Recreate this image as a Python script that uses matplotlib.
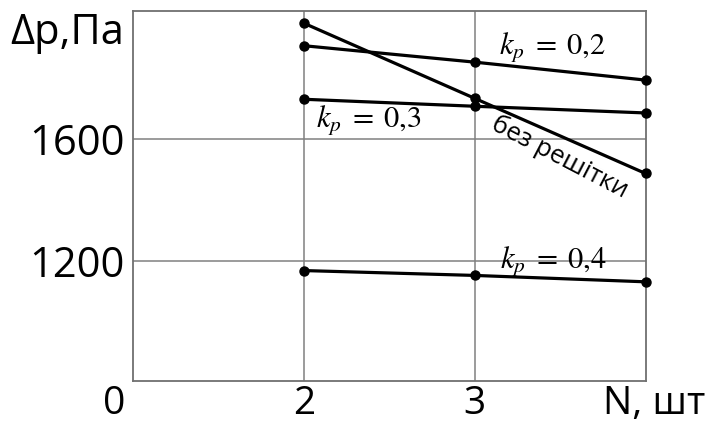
import matplotlib
matplotlib.use("Agg")
import matplotlib.pyplot as plt

plt.rcParams['font.family'] = ['Open Sans', 'DejaVu Sans']
plt.rcParams['mathtext.fontset'] = 'stix'

# Data
n_values = [2, 3, 4]
dp_k02 = [1907, 1853, 1794]
dp_no_grid = [1981, 1734, 1487]
dp_k03 = [1731, 1708, 1686]
dp_k04 = [1168, 1152, 1131]

y_ticks = [1200, 1600]
x_ticks = [2, 3]
x_labels = ['2', '3']

fig = plt.figure(figsize=(7.11, 4.24), dpi=100)
ax = fig.add_axes([0.187, 0.1014, 0.721, 0.8726])

for series in (dp_k02, dp_no_grid, dp_k03, dp_k04):
    ax.plot(n_values, series, color='black', lw=2.3, marker='o', ms=6.5,
            clip_on=False, zorder=3)

ax.set_xlim(1, 4)
ax.set_ylim(805, 2021)
ax.set_xticks(x_ticks)
ax.set_xticklabels([])
ax.set_yticks(y_ticks)
ax.set_yticklabels([str(v) for v in y_ticks])
ax.tick_params(length=0, labelsize=30, pad=6, colors='black')
ax.grid(True, color='#808080', lw=1.1)
for sp in ax.spines.values():
    sp.set_color('#707070')
    sp.set_linewidth(1.3)

# bottom labels, placed by baseline so they stay inside the figure
def bottom_label(x, s):
    ax.annotate(s, xy=(x, 0), xycoords=('data', 'axes fraction'),
                xytext=(0, -23.5), textcoords='offset points', ha='center',
                va='baseline', fontsize=28, annotation_clip=False)

for x, s in zip(x_ticks, x_labels):
    bottom_label(x, s)
bottom_label(4.05, 'N, шт')
bottom_label(0.89, '0')

ax.annotate('Δp,Па', xy=(0, 1948), xycoords=('axes fraction', 'data'),
            xytext=(-6, 0), textcoords='offset points', ha='right',
            va='center', fontsize=30, annotation_clip=False)

# line labels
ax.text(3.14, 1900, r'$k_p\;=\;0{,}2$', fontsize=22, va='center')
ax.text(2.07, 1660, r'$k_p\;=\;0{,}3$', fontsize=22, va='center')
ax.text(3.15, 1196, r'$k_p\;=\;0{,}4$', fontsize=22, va='center')
ax.text(3.50, 1541, 'без решітки', fontsize=18.5, rotation=-27.5,
        ha='center', va='center', rotation_mode='anchor')

fig.savefig('out.png', dpi=100)
